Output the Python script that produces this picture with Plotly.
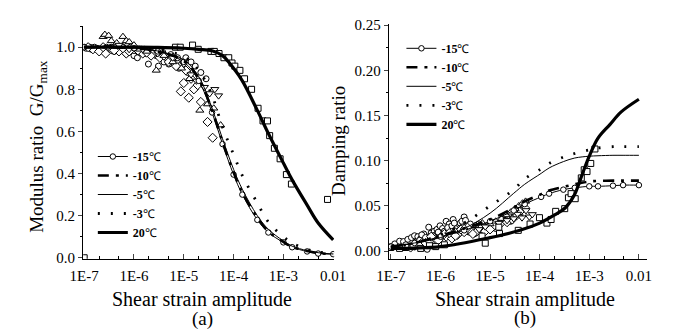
import plotly.graph_objects as go

# ---------------- data: (a) modulus ratio ----------------
strain_fit = [1e-7, 1e-6, 3e-6, 1e-5, 2e-5, 3.7e-5, 6e-5, 1e-4, 1.5e-4, 3e-4, 5e-4, 1e-3, 1.5e-3, 3e-3, 5e-3, 1e-2]
G_m15 = [1.0, 0.995, 0.98, 0.93, 0.84, 0.69, 0.54, 0.395, 0.30, 0.18, 0.12, 0.073, 0.05, 0.03, 0.02, 0.017]
G_m10 = [1.0, 0.995, 0.98, 0.935, 0.85, 0.70, 0.55, 0.405, 0.31, 0.19, 0.125, 0.075, 0.052, 0.032, 0.022, 0.017]
G_m5 = [1.0, 0.996, 0.982, 0.94, 0.86, 0.71, 0.565, 0.42, 0.325, 0.20, 0.135, 0.08, 0.055, 0.034, 0.024, 0.018]
G_m3 = [1.0, 0.997, 0.988, 0.955, 0.89, 0.77, 0.62, 0.49, 0.39, 0.26, 0.17, 0.10, 0.07, 0.04, 0.027, 0.02]
G_p20 = [1.0, 1.0, 0.999, 0.995, 0.99, 0.983, 0.96, 0.90, 0.84, 0.70, 0.59, 0.45, 0.37, 0.25, 0.165, 0.085]

a_circ_x = [1e-7, 1.3e-7, 1.6e-7, 2e-7, 2.5e-7, 3e-7, 3.5e-7, 4e-7, 5e-7, 6e-7, 7e-7, 8e-7, 9e-7, 1e-6, 1.17e-6,
            1.4e-6, 1.7e-6, 1.95e-6, 2.3e-6, 2.8e-6, 3.1e-6, 3.5e-6, 4e-6, 5e-6, 6e-6, 7e-6, 8e-6, 1e-5, 1.2e-5,
            1.8e-7, 2.8e-7, 4.5e-7, 5.5e-7, 7.5e-7, 1.1e-6, 1.5e-6, 2.1e-6, 3.3e-6, 4.5e-6, 9e-6,
            1.1e-7, 1.4e-7, 2.2e-7, 3.3e-7, 4.2e-7, 6.5e-7, 8.5e-7, 1.3e-6, 1.6e-6, 2.5e-6, 3.8e-6, 5.5e-6,
            7.5e-6, 1.1e-5, 1.4e-5, 1.7e-5, 2.2e-5, 2.8e-5]
a_circ_y = [1.0, 1.0, 1.0, 0.99, 1.0, 0.99, 1.0, 0.98, 0.99, 1.0, 0.97, 0.99, 0.98, 0.96, 0.95,
            0.99, 0.97, 0.92, 0.98, 0.96, 0.91, 0.95, 0.93, 0.92, 0.94, 0.91, 0.90, 0.93, 0.88,
            0.995, 1.0, 0.985, 0.995, 0.99, 0.985, 0.98, 0.975, 0.965, 0.95, 0.92,
            0.995, 0.99, 0.985, 0.995, 0.99, 0.985, 1.0, 0.975, 0.99, 0.97, 0.975, 0.965,
            0.95, 0.95, 0.93, 0.91, 0.88, 0.85]
a_tri_x = [2.4e-7, 2.6e-7, 3.1e-7, 3.5e-7, 4.5e-7, 6e-7, 7e-7, 8e-7, 1e-6, 1.3e-6, 1.8e-6, 2.8e-6, 4e-6, 6e-6,
           9e-6, 1.3e-5, 2.1e-5, 3e-5, 4e-5, 5.5e-5]
a_tri_y = [1.05, 1.06, 1.055, 1.03, 1.02, 1.05, 1.03, 1.025, 1.01, 0.99, 0.98, 0.89, 0.96, 0.93,
           0.90, 0.85, 0.70, 0.73, 0.71, 0.63]
a_itri_x = [3e-7, 5e-7, 8e-7, 1.5e-6, 3e-6, 6e-6, 1e-5, 1.4e-5, 1.8e-5, 2.6e-5, 3.3e-5, 4.2e-5, 5e-5]
a_itri_y = [1.0, 1.01, 0.99, 0.99, 0.97, 0.95, 0.92, 0.87, 0.84, 0.81, 0.78, 0.80, 0.77]
a_dia_x = [1.5e-7, 2e-7, 2.7e-7, 3.5e-7, 5e-7, 7e-7, 1e-6, 1.5e-6, 2.2e-6, 3.3e-6, 5e-6, 7e-6, 8.7e-6, 1e-5,
           1.26e-5, 1.6e-5, 2.2e-5, 3e-5, 3.8e-5,
           1.2e-7, 2.4e-7, 4e-7, 6e-7, 8e-7, 1.2e-6, 1.8e-6, 2.7e-6, 4e-6, 6e-6, 1.1e-5, 1.4e-5, 1.9e-5]
a_dia_y = [0.99, 0.98, 0.97, 0.99, 0.98, 0.97, 0.99, 0.97, 0.96, 0.95, 0.93, 0.91, 0.79, 0.83,
           0.76, 0.80, 0.74, 0.645, 0.57,
           1.0, 1.0, 0.985, 0.995, 0.98, 0.985, 0.975, 0.98, 0.96, 0.95, 0.89, 0.85, 0.82]
a_sq_x = [1e-7, 6.8e-6, 8.5e-6, 1.5e-5, 1.95e-5, 3.5e-5, 4.1e-5, 5.1e-5, 6.4e-5, 8e-5, 9.3e-5, 1.06e-4, 1.34e-4,
          1.66e-4, 2.3e-4, 3.1e-4, 3.9e-4, 4.8e-4, 5.3e-4, 6.6e-4, 8.6e-4, 1.15e-3, 1.45e-3, 7.7e-3]
a_sq_y = [0.0, 1.0, 1.0, 1.01, 0.99, 0.98, 0.98, 0.97, 0.95, 0.95, 0.925, 0.91, 0.89,
          0.85, 0.80, 0.71, 0.65, 0.65, 0.58, 0.52, 0.47, 0.395, 0.35, 0.277]

# ---------------- data: (b) damping ratio ----------------
strain_d = [1e-7, 3e-7, 1e-6, 3e-6, 1e-5, 3e-5, 5e-5, 1.07e-4, 1.55e-4, 3e-4, 5.1e-4, 1e-3, 1.5e-3, 3e-3, 4.8e-3, 1e-2]
D_m15 = [0.005, 0.009, 0.016, 0.023, 0.033, 0.045, 0.052, 0.060, 0.0636, 0.068, 0.070, 0.0717, 0.0717, 0.0724, 0.073, 0.073]
D_m10 = [0.005, 0.009, 0.017, 0.025, 0.035, 0.048, 0.055, 0.063, 0.067, 0.071, 0.074, 0.077, 0.0777, 0.078, 0.078, 0.078]
D_m5 = [0.005, 0.009, 0.015, 0.025, 0.042, 0.064, 0.074, 0.086, 0.092, 0.099, 0.103, 0.105, 0.1055, 0.106, 0.106, 0.106]
D_m3 = [0.004, 0.009, 0.018, 0.031, 0.050, 0.068, 0.080, 0.091, 0.097, 0.104, 0.108, 0.112, 0.114, 0.1155, 0.1155, 0.1155]
strain_d20 = [1e-7, 1e-6, 1e-5, 4e-5, 1e-4, 2e-4, 3.3e-4, 5e-4, 7e-4, 1e-3, 1.5e-3, 2.6e-3, 4.4e-3, 1e-2]
D_p20 = [0.003, 0.005, 0.015, 0.023, 0.031, 0.040, 0.048, 0.062, 0.083, 0.105, 0.125, 0.140, 0.154, 0.168]

b_circ_x = [1.0e-7, 1.2e-7, 1.5e-7, 1.8e-7, 2.2e-7, 2.6e-7, 3.0e-7, 3.5e-7, 4.0e-7, 4.6e-7, 5.4e-7, 5.8e-7, 6.5e-7,
            7.5e-7, 8.5e-7, 9.8e-7, 1.1e-6, 1.3e-6, 1.5e-6, 1.8e-6, 2.1e-6, 2.5e-6, 3.0e-6, 3.5e-6, 4.2e-6,
            5.0e-6, 6.0e-6, 7.5e-6, 9.0e-6, 1.1e-5, 1.4e-5, 1.8e-5, 2.3e-5, 3.0e-5, 4.0e-5,
            2.0e-7, 3.2e-7, 4.5e-7, 6.0e-7, 8.0e-7, 1.0e-6, 1.2e-6, 1.6e-6, 2.0e-6, 2.8e-6, 3.8e-6, 4.8e-6,
            6.5e-6, 8.5e-6, 1.3e-5,
            3.8e-7, 4.2e-7, 5.0e-7, 7.0e-7, 9.0e-7, 1.15e-6, 1.4e-6, 1.7e-6, 1.9e-6, 2.3e-6, 2.7e-6, 3.2e-6,
            4.0e-6, 5.5e-6, 7.0e-6, 1.0e-5, 1.2e-5, 1.6e-5, 2.0e-5, 2.6e-5]
b_circ_y = [0.005, 0.008, 0.011, 0.0106, 0.013, 0.015, 0.017, 0.016, 0.014, 0.019, 0.002, 0.0265, 0.020,
            0.022, 0.024, 0.028, 0.025, 0.033, 0.030, 0.035, 0.027, 0.031, 0.0378, 0.029, 0.026,
            0.024, 0.030, 0.028, 0.027, 0.032, 0.030, 0.033, 0.036, 0.038, 0.040,
            0.007, 0.010, 0.012, 0.016, 0.018, 0.020, 0.022, 0.024, 0.025, 0.027, 0.021, 0.019,
            0.022, 0.024, 0.025,
            0.012, 0.018, 0.015, 0.017, 0.021, 0.019, 0.026, 0.028, 0.031, 0.022, 0.033, 0.034,
            0.030, 0.027, 0.026, 0.029, 0.027, 0.031, 0.034, 0.033]
b_dia_x = [2.5e-7, 3e-7, 4e-7, 5e-7, 6e-7, 8e-7, 1e-6, 1.3e-6, 1.7e-6, 2.2e-6, 3e-6, 4e-6, 5.5e-6, 7e-6, 9e-6,
           1.2e-5, 1.6e-5, 2.2e-5, 2.8e-5, 3.5e-5, 4.2e-5, 5e-5,
           6.5e-7, 9e-7, 1.2e-6, 1.5e-6, 2e-6, 2.6e-6, 3.5e-6, 4.5e-6, 6e-6, 8e-6, 1e-5]
b_dia_y = [0.004, 0.006, 0.008, 0.009, 0.011, 0.013, 0.015, 0.016, 0.014, 0.018, 0.021, 0.023, 0.022, 0.025, 0.026,
           0.028, 0.030, 0.032, 0.035, 0.040, 0.045, 0.048,
           0.016, 0.012, 0.019, 0.020, 0.017, 0.024, 0.026, 0.019, 0.027, 0.022, 0.024]
b_tri_x = [1e-5, 1.3e-5, 1.7e-5, 2.1e-5, 2.6e-5, 3.2e-5, 3.8e-5, 4.5e-5, 5.2e-5, 2e-6, 3e-6, 5e-6, 7e-6]
b_tri_y = [0.030, 0.033, 0.036, 0.040, 0.043, 0.047, 0.050, 0.053, 0.055, 0.022, 0.026, 0.028, 0.031]
b_itri_x = [1.5e-5, 2.2e-5, 3e-5, 3.6e-5, 4.4e-5, 5.3e-5, 6.2e-5, 7.1e-5, 8e-6, 6e-6]
b_itri_y = [0.031, 0.034, 0.036, 0.041, 0.037, 0.045, 0.038, 0.0406, 0.027, 0.024]
b_sq_x = [1e-7, 1.5e-7, 2e-7, 2.8e-7, 4e-7, 6e-7, 8e-7, 1.2e-6, 6.9e-6, 8e-6, 1.5e-5, 1.55e-5, 3.7e-5, 6.4e-5,
          9.9e-5, 1.4e-4, 1.7e-4, 2.1e-4, 3.2e-4, 3.8e-4, 4.3e-4, 5.2e-4, 6.9e-4, 7.9e-4, 9e-4, 1.07e-3, 1.3e-3]
b_sq_y = [0.004, 0.003, 0.004, 0.005, 0.003, 0.006, 0.005, 0.007, 0.0166, 0.0088, 0.0265, 0.0194, 0.023, 0.030,
          0.037, 0.031, 0.035, 0.044, 0.047, 0.059, 0.0636, 0.058, 0.081, 0.090, 0.088, 0.097, 0.113]

tick_vals = [1e-7, 1e-6, 1e-5, 1e-4, 1e-3, 1e-2]
tick_text = ["1E-7", "1E-6", "1E-5", "1E-4", "1E-3", "0.01"]
names = ["<b>-15</b>℃", "<b>-10</b>℃", "<b>-5</b>℃", "<b>-3</b>℃", "<b>20</b>℃"]

FONT = "Liberation Serif"
W, H = 673, 329

fig = go.Figure()


def scat(x, y, sym, xa, ya, size=6):
    fig.add_trace(go.Scatter(x=x, y=y, mode="markers", xaxis=xa, yaxis=ya, showlegend=False,
                             marker=dict(symbol=sym, size=size, color="white",
                                         line=dict(color="black", width=1))))


def lines(xs, ys_list, xa, ya, leg):
    styles = [
        dict(mode="lines+markers", line=dict(color="black", width=1, shape="spline"),
             marker=dict(symbol="circle", size=5.5, color="white", line=dict(color="black", width=1))),
        dict(mode="lines", line=dict(color="black", width=2.6, dash="11px,7px,3px,7px", shape="spline")),
        dict(mode="lines", line=dict(color="black", width=1, shape="spline")),
        dict(mode="lines", line=dict(color="black", width=2.8, dash="2px,11px", shape="spline")),
        dict(mode="lines", line=dict(color="black", width=3.2, shape="spline")),
    ]
    for (x, y), nm, st in zip(zip(xs, ys_list), names, styles):
        fig.add_trace(go.Scatter(x=x, y=y, name=nm, xaxis=xa, yaxis=ya, legend=leg, **st))


# (a)
scat(a_circ_x, a_circ_y, "circle", "x", "y")
scat(a_dia_x, a_dia_y, "diamond", "x", "y", 7)
scat(a_tri_x, a_tri_y, "triangle-up", "x", "y", 7)
scat(a_itri_x, a_itri_y, "triangle-down", "x", "y", 7)
scat(a_sq_x, a_sq_y, "square", "x", "y", 6)
lines([strain_fit] * 5, [G_m15, G_m10, G_m5, G_m3, G_p20], "x", "y", "legend")

# (b)
scat(b_circ_x, b_circ_y, "circle", "x2", "y2")
scat(b_dia_x, b_dia_y, "diamond", "x2", "y2", 7)
scat(b_tri_x, b_tri_y, "triangle-up", "x2", "y2", 7)
scat(b_itri_x, b_itri_y, "triangle-down", "x2", "y2", 7)
scat(b_sq_x, b_sq_y, "square", "x2", "y2", 6)
lines([strain_d] * 4 + [strain_d20], [D_m15, D_m10, D_m5, D_m3, D_p20], "x2", "y2", "legend2")

xcommon = dict(type="log", tickvals=tick_vals, ticktext=tick_text, ticks="inside", ticklen=5, tickwidth=1,
               showline=True, linecolor="black", linewidth=1.3, showgrid=False, zeroline=False,
               ticklabelstandoff=3,
               tickfont=dict(family=FONT, size=15, color="black"),
               minor=dict(ticks="inside", ticklen=3, tickwidth=1, tickcolor="black", showgrid=False))
ycommon = dict(ticks="outside", ticklen=4, tickwidth=1, showline=True, linecolor="black", linewidth=1.3,
               showgrid=False, zeroline=False, tickfont=dict(family=FONT, size=15, color="black"))


def ann(text, x, y, angle=0, size=19):
    return dict(text=text, x=x / W, y=1 - y / H, xref="paper", yref="paper", showarrow=False,
                xanchor="center", yanchor="middle", textangle=angle,
                font=dict(family=FONT, size=size, color="black"))


fig.update_layout(
    width=W, height=H, margin=dict(l=0, r=0, t=0, b=0),
    paper_bgcolor="white", plot_bgcolor="white",
    font=dict(family=FONT, color="black"),
    xaxis=dict(domain=[72 / W, 333 / W], range=[-7 - 1 / 51.8, -2 + 1 / 51.8], anchor="y", **xcommon),
    yaxis=dict(domain=[(H - 263) / H, (H - 20) / H], range=[-0.005, 1.1], anchor="x",
               tickvals=[0, 0.2, 0.4, 0.6, 0.8, 1.0], tickformat=".1f",
               minor=dict(ticks="outside", ticklen=2, dtick=0.1, tickcolor="black", showgrid=False),
               **ycommon),
    xaxis2=dict(domain=[390 / W, 658 / W], range=[-7 - 2 / 51.6, -2 + 8 / 51.6], anchor="y2", **xcommon),
    yaxis2=dict(domain=[(H - 263) / H, (H - 18) / H], range=[-0.0085, 0.251], anchor="x2",
                tickvals=[0, 0.05, 0.1, 0.15, 0.2, 0.25], tickformat=".2f",
                minor=dict(ticks="outside", ticklen=2, dtick=0.025, tickcolor="black", showgrid=False),
                **ycommon),
    legend=dict(x=82 / W, y=1 - 141 / H, xanchor="left", yanchor="top", bgcolor="rgba(0,0,0,0)",
                font=dict(family=FONT, size=12, color="black"), itemwidth=30),
    legend2=dict(x=403 / W, y=1 - 28 / H, xanchor="left", yanchor="top", bgcolor="rgba(0,0,0,0)",
                 font=dict(family=FONT, size=12, color="black"), itemwidth=30),
    annotations=[
        ann("Shear strain amplitude", 196, 306, size=20),
        ann("Shear strain amplitude", 532, 306, size=20),
        ann("(a)", 196, 326),
        ann("(b)", 532, 325),
        ann("Modulus ratio  G/G<sub>max</sub>", 25, 146, angle=-90),
        ann("Damping ratio", 337, 140, angle=-90),
    ],
)

fig.write_html("out.html")
